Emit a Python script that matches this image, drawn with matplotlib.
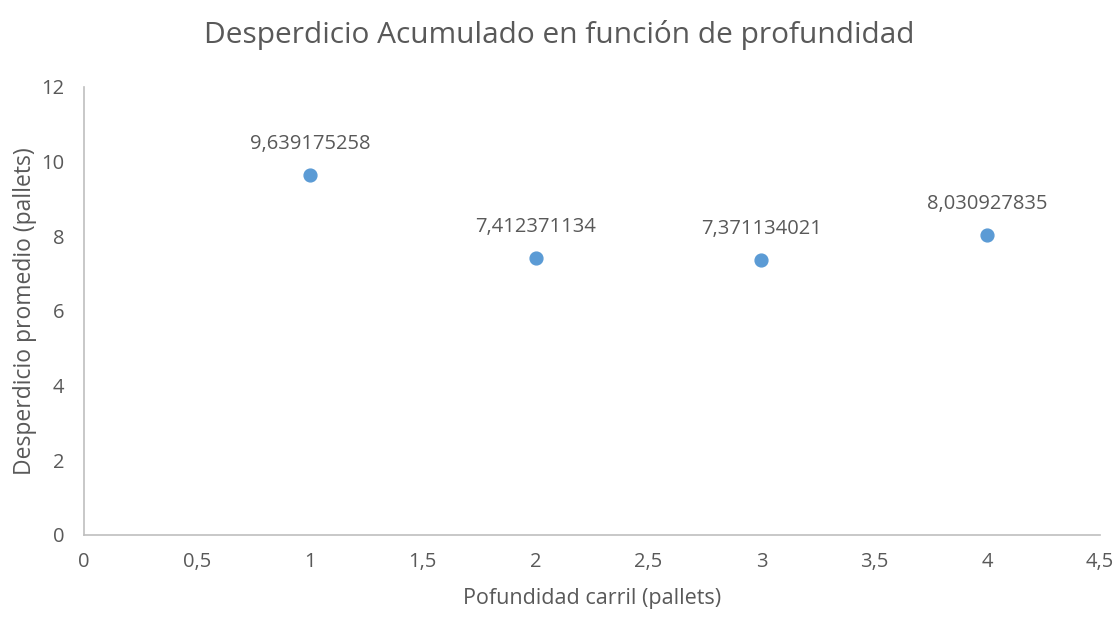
import matplotlib
matplotlib.use("Agg")
import matplotlib.pyplot as plt
from matplotlib.ticker import FuncFormatter

plt.rcParams['font.family'] = ['Open Sans', 'DejaVu Sans']

# data
profundidad = [1, 2, 3, 4]
desperdicio = [9.639175258, 7.412371134, 7.371134021, 8.030927835]
etiquetas = ["9,639175258", "7,412371134", "7,371134021", "8,030927835"]

gray_text = '#595959'
axis_gray = '#BFBFBF'
blue = '#5B9BD5'

fig = plt.figure(figsize=(11.19, 6.21), dpi=100)
ax = fig.add_axes([0.0751, 0.1385, 0.908, 0.7215])

ax.scatter(profundidad, desperdicio, s=85, color=blue, zorder=3)
for x, y, lab in zip(profundidad, desperdicio, etiquetas):
    ax.annotate(lab, (x, y), xytext=(0, 15), textcoords='offset points',
                ha='center', va='bottom', fontsize=14.5, color=gray_text)

ax.set_xlim(0, 4.5)
ax.set_ylim(0, 12)
ax.set_xticks([0, 0.5, 1, 1.5, 2, 2.5, 3, 3.5, 4, 4.5])
ax.set_yticks([0, 2, 4, 6, 8, 10, 12])
fmt = FuncFormatter(lambda v, p: f"{v:g}".replace('.', ','))
ax.xaxis.set_major_formatter(fmt)
ax.yaxis.set_major_formatter(fmt)

for side in ['top', 'right']:
    ax.spines[side].set_visible(False)
for side in ['left', 'bottom']:
    ax.spines[side].set_color(axis_gray)
    ax.spines[side].set_linewidth(1.2)
ax.tick_params(axis='both', length=0, labelsize=14.5, colors=gray_text)
ax.tick_params(axis='x', pad=12)
ax.tick_params(axis='y', pad=14)

ax.set_xlabel("Pofundidad carril (pallets)", fontsize=15.5, color=gray_text, labelpad=12)
ax.set_ylabel("Desperdicio promedio (pallets)", fontsize=16.5, color=gray_text, labelpad=3)
fig.suptitle("Desperdicio Acumulado en función de profundidad", fontsize=21.5,
             color=gray_text, y=0.968)

fig.savefig("out.png", dpi=100)
